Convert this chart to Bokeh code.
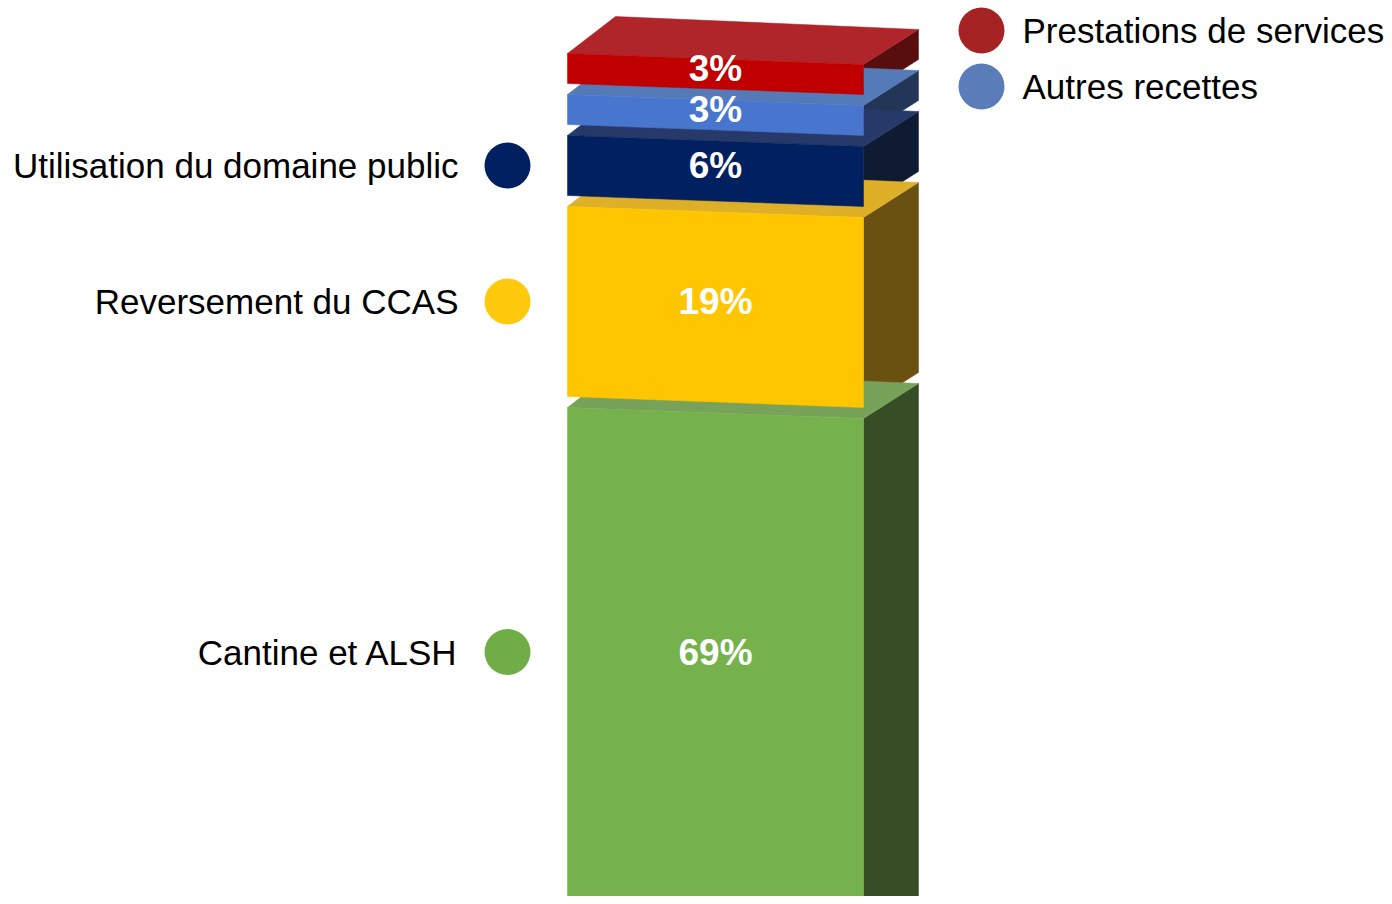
from bokeh.plotting import figure
from bokeh.models import Range1d
from bokeh.core.properties import value
from bokeh.embed import file_html
from bokeh.resources import INLINE

# ---- data (bottom to top of the stack) ----
categories = ["Cantine et ALSH", "Reversement du CCAS", "Utilisation du domaine public",
              "Autres recettes", "Prestations de services"]
values = [69, 19, 6, 3, 3]
pct_labels = ["69%", "19%", "6%", "3%", "3%"]
label_side = ["left", "left", "left", "right", "right"]

# ---- styles ----
front_colors = ["#76B24B", "#FFC600", "#002060", "#4876CF", "#C00000"]
top_colors = ["#78A15A", "#DDB028", "#263968", "#557AB8", "#B0252A"]
side_colors = ["#364D25", "#6A5011", "#0F1A33", "#243658", "#580E0E"]
dot_colors = ["#70AD47", "#FFC90E", "#002060", "#5A7DBA", "#A52323"]

FONT = "'Liberation Sans', Arial, sans-serif"
W, H = 1384, 896
K = 10.0          # pixels per percent
GAP = 1.1         # gap between slabs, in percent units
XL, XR = 567, 863 # front face left / right (screen x)
DXL, DXR = 48, 55 # depth offset in x at left / right
DYL, DYR = 3.7, 3.5  # depth offset in y (units) at left / right
SLANT = 1.1       # front face tilt (units)

# stack positions
bottoms, tops = [], []
cur = 0.0
for v in values:
    bottoms.append(cur)
    tops.append(cur + v)
    cur += v + GAP

y_end = tops[0] + 407 / K
y_start = y_end - H / K

def sy_to_data(sy):
    return y_end - sy / K

p = figure(width=W, height=H, output_backend="svg", toolbar_location=None,
           x_range=Range1d(0, W), y_range=Range1d(y_start, y_end),
           min_border=0, background_fill_color="white", border_fill_color="white")
p.axis.visible = False
p.grid.visible = False
p.outline_line_color = None

fx, fy, tx, ty, sx, sy = [], [], [], [], [], []
for y0, y1 in zip(bottoms, tops):
    fx.append([XL, XR, XR, XL])
    fy.append([y0, y0 - SLANT, y1 - SLANT, y1])
    tx.append([XL, XR, XR + DXR, XL + DXL])
    ty.append([y1, y1 - SLANT, y1 - SLANT + DYR, y1 + DYL])
    sx.append([XR, XR + DXR, XR + DXR, XR])
    sy.append([y0 - SLANT, y0 - SLANT + DYR, y1 - SLANT + DYR, y1 - SLANT])

p.patches(sx, sy, fill_color=side_colors, line_color=side_colors, line_width=0.5)
p.patches(tx, ty, fill_color=top_colors, line_color=top_colors, line_width=0.5)
p.patches(fx, fy, fill_color=front_colors, line_color=front_colors, line_width=0.5)

# percentage labels
mids = [(max(b, y_start) + t) / 2 for b, t in zip(bottoms, tops)]
p.text(x=[(XL + XR) / 2] * len(values), y=mids, text=pct_labels,
       text_color="white", text_font=value(FONT), text_font_style="bold",
       text_font_size="37px", text_align="center", text_baseline="middle")

# left side labels
lx = [c for c, s in zip(categories, label_side) if s == "left"]
ly = [m for m, s in zip(mids, label_side) if s == "left"]
lc = [c for c, s in zip(dot_colors, label_side) if s == "left"]
p.scatter(x=[507] * len(ly), y=ly, size=46, color=lc, line_color=None)
p.text(x=[458] * len(ly), y=ly, text=lx, text_color="black", text_font=value(FONT),
       text_font_size="35px", text_align="right", text_baseline="middle")

# right side legend (top to bottom)
rx = [c for c, s in zip(categories, label_side) if s == "right"][::-1]
rc = [c for c, s in zip(dot_colors, label_side) if s == "right"][::-1]
ry = [sy_to_data(30), sy_to_data(86)]
p.scatter(x=[981] * len(ry), y=ry, size=46, color=rc, line_color=None)
p.text(x=[1022] * len(ry), y=ry, text=rx, text_color="black", text_font=value(FONT),
       text_font_size="35px", text_align="left", text_baseline="middle")

open("out.html", "w").write(file_html(p, INLINE))
